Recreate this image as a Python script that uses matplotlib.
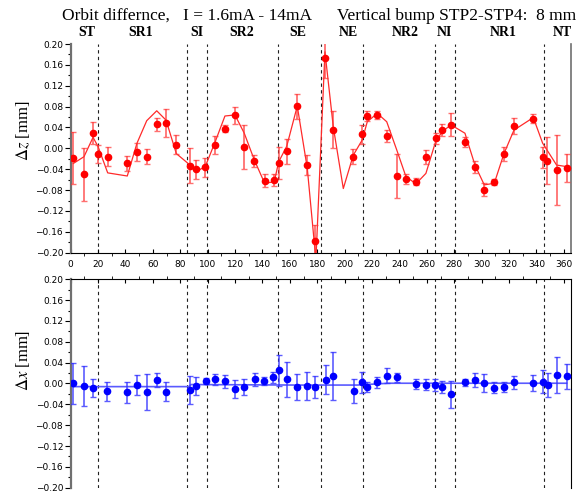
import matplotlib
matplotlib.use('Agg')
import matplotlib.pyplot as plt
from matplotlib.ticker import MultipleLocator, FuncFormatter

plt.rcParams['mathtext.fontset'] = 'stix'

# measured vertical orbit difference (red)
s_z = [1.9, 9.7, 16.3, 19.9, 27.0, 41.3, 48.4, 55.5, 62.8, 69.6, 77.1, 86.8, 91.2, 98.2,
       105.1, 112.6, 119.9, 126.7, 134.0, 141.6, 148.6, 151.8, 157.7, 165.4, 172.7, 178.3,
       185.6, 191.7, 206.3, 212.8, 216.5, 223.8, 230.7, 238.0, 244.7, 252.0, 259.3, 266.4,
       271.2, 277.6, 287.8, 295.1, 301.9, 309.2, 316.3, 323.6, 337.7, 344.5, 347.9, 354.7, 362.0]
dz = [-0.019, -0.050, 0.029, -0.011, -0.016, -0.029, -0.007, -0.016, 0.046, 0.049, 0.007,
      -0.033, -0.040, -0.036, 0.006, 0.038, 0.063, 0.003, -0.024, -0.062, -0.061, -0.028,
      -0.006, 0.081, -0.032, -0.177, 0.174, 0.036, -0.016, 0.027, 0.062, 0.064, 0.024,
      -0.053, -0.059, -0.064, -0.017, 0.019, 0.035, 0.045, 0.012, -0.036, -0.079, -0.064,
      -0.011, 0.043, 0.057, -0.017, -0.024, -0.042, -0.038]
dz_err = [0.050, 0.050, 0.021, 0.017, 0.018, 0.015, 0.018, 0.014, 0.013, 0.027, 0.018,
          0.033, 0.018, 0.018, 0.017, 0.007, 0.016, 0.042, 0.011, 0.012, 0.011, 0.031,
          0.024, 0.024, 0.020, 0.030, 0.040, 0.035, 0.014, 0.018, 0.010, 0.008, 0.011,
          0.042, 0.010, 0.007, 0.013, 0.011, 0.012, 0.022, 0.009, 0.012, 0.012, 0.006,
          0.014, 0.015, 0.009, 0.020, 0.045, 0.067, 0.027]

# model vertical (red line)
model_s_z = [1.9, 9.7, 16.3, 19.9, 27.0, 41.3, 48.4, 55.5, 62.8, 69.6, 77.1, 87.1, 91.2,
             98.2, 105.1, 112.6, 119.9, 126.7, 134.0, 141.6, 148.6, 151.8, 157.7, 165.4,
             172.7, 179.0, 185.6, 191.7, 199.0, 206.3, 212.8, 216.5, 223.8, 230.7, 238.0,
             244.7, 252.0, 259.3, 266.4, 271.2, 277.6, 287.8, 295.1, 301.9, 309.2, 316.3,
             323.6, 337.7, 344.5, 354.7, 362.0]
model_z = [-0.029, -0.016, 0.021, 0.004, -0.047, -0.053, 0.010, 0.053, 0.072, 0.054, -0.010,
           -0.032, -0.045, -0.035, 0.010, 0.062, 0.064, 0.029, -0.022, -0.067, -0.064,
           -0.026, 0.004, 0.081, -0.038, -0.214, 0.185, 0.041, -0.077, -0.013, 0.016, 0.051,
           0.067, 0.051, -0.003, -0.054, -0.068, -0.048, 0.013, 0.032, 0.045, 0.029, -0.032,
           -0.070, -0.067, -0.010, 0.035, 0.059, 0.010, -0.032, -0.035]

# measured horizontal orbit difference (blue)
s_x = [1.9, 9.7, 16.5, 26.7, 41.3, 48.6, 55.5, 62.8, 69.6, 87.1, 91.2, 98.5, 105.3, 112.6,
       119.9, 126.7, 134.3, 141.3, 147.9, 152.0, 157.7, 165.5, 172.7, 178.3, 186.1, 191.7,
       206.8, 212.8, 216.5, 223.8, 230.7, 238.0, 252.0, 259.1, 266.1, 271.0, 277.6, 287.8,
       294.9, 301.9, 309.2, 316.3, 323.6, 337.7, 345.0, 348.2, 355.2, 362.0]
dx = [0.000, -0.0045, -0.008, -0.015, -0.017, -0.003, -0.016, 0.0065, -0.016, -0.013,
      -0.0045, 0.005, 0.008, 0.004, -0.011, -0.0065, 0.008, 0.005, 0.012, 0.025, 0.008,
      -0.0065, -0.005, -0.0065, 0.007, 0.015, -0.015, 0.002, -0.0065, 0.002, 0.015, 0.012,
      -0.0013, -0.002, -0.003, -0.0065, -0.021, 0.002, 0.0065, 0.001, -0.008, -0.0065,
      0.002, 0.001, 0.003, -0.002, 0.016, 0.014]
dx_err = [0.040, 0.038, 0.017, 0.018, 0.020, 0.019, 0.034, 0.013, 0.018, 0.027, 0.017,
          0.006, 0.010, 0.013, 0.017, 0.015, 0.013, 0.008, 0.011, 0.030, 0.033, 0.025,
          0.027, 0.021, 0.028, 0.046, 0.023, 0.020, 0.010, 0.011, 0.014, 0.009, 0.010,
          0.010, 0.011, 0.011, 0.026, 0.007, 0.013, 0.018, 0.010, 0.009, 0.013, 0.016,
          0.022, 0.023, 0.035, 0.024]

# model horizontal (blue line)
model_s_x = [1.9, 86.0, 88.0, 166.0, 209.0, 232.0, 362.0]
model_x = [-0.006, -0.006, -0.002, -0.003, -0.003, 0.0005, 0.0005]

# section boundaries and names
boundaries = [19.7, 85.1, 99.3, 151.5, 182.5, 213.4, 266.1, 280.7, 345.5]
sections = ['ST', 'SR1', 'SI', 'SR2', 'SE', 'NE', 'NR2', 'NI', 'NR1', 'NT']
section_pos = [11.7, 51.3, 92.0, 124.8, 166.0, 202.6, 244.0, 273.2, 315.8, 359.0]


def fmt_y(v, pos):
    if abs(v) < 1e-9:
        v = 0.0
    return f'{v:.2f}'.replace('-', '\u2212')


W, H = 579, 491
fig = plt.figure(figsize=(W / 100, H / 100), dpi=100)
x0, x1 = 70.7, 570.7
ax1 = fig.add_axes([x0 / W, 1 - 252.7 / H, (x1 - x0) / W, 208.7 / H])
ax2 = fig.add_axes([x0 / W, 1 - 487.7 / H, (x1 - x0) / W, 208.4 / H])

for ax in (ax1, ax2):
    ax.set_xlim(0, 365)
    ax.set_ylim(-0.2, 0.2)
    ax.xaxis.set_major_locator(MultipleLocator(20))
    ax.xaxis.set_minor_locator(MultipleLocator(10))
    ax.yaxis.set_major_locator(MultipleLocator(0.04))
    ax.yaxis.set_minor_locator(MultipleLocator(0.02))
    ax.yaxis.set_major_formatter(FuncFormatter(fmt_y))
    ax.tick_params(axis='y', which='major', direction='out', length=4, width=0.8,
                   labelsize=6.5, pad=1.5)
    ax.tick_params(axis='y', which='minor', direction='out', length=2.5, width=0.8)
    ax.spines['left'].set_color('#707070')
    ax.spines['left'].set_linewidth(1.6)
    for b in boundaries:
        ax.axvline(b, color='#202020', ls=(0, (3, 3)), lw=0.8, zorder=1)

# top panel
ax1.spines['top'].set_visible(False)
ax1.spines['right'].set_color('#707070')
ax1.spines['right'].set_linewidth(1.2)
ax1.tick_params(axis='x', which='major', direction='in', length=3, labelsize=6.5, pad=5)
ax1.tick_params(axis='x', which='minor', direction='out', length=2)
ax1.tick_params(axis='y', right=False)

ax1.plot(model_s_z, model_z, color='#ff2a2a', lw=0.9, zorder=2)
ax1.errorbar(s_z, dz, yerr=dz_err, fmt='o', color='red', markersize=4.5,
             ecolor=(1, 0.2, 0.2, 0.7), elinewidth=1.3, capsize=2.5, capthick=1.0,
             zorder=3)

for name, pos in zip(sections, section_pos):
    ax1.text(pos, 0.2105, name, ha='center', va='bottom', fontsize=10,
             fontweight='bold', family='Liberation Serif')

# bottom panel
ax2.spines['bottom'].set_visible(False)
ax2.xaxis.set_ticks_position('top')
ax2.tick_params(axis='x', which='major', direction='in', length=3, labeltop=False)
ax2.tick_params(axis='x', which='minor', direction='out', length=2)

ax2.plot(model_s_x, model_x, color='#5a5aff', lw=1.2, zorder=2)
ax2.errorbar(s_x, dx, yerr=dx_err, fmt='o', color='blue', markersize=4.5,
             ecolor=(0.2, 0.2, 1, 0.8), elinewidth=1.2, capsize=2.5, capthick=1.0,
             zorder=3)

fig.text(23 / W, 1 - 131 / H, r'$\Delta z$ [mm]', rotation=90, ha='center', va='center',
         fontsize=12, family='Liberation Serif')
fig.text(23 / W, 1 - 360 / H, r'$\Delta x$ [mm]', rotation=90, ha='center', va='center',
         fontsize=12, family='Liberation Serif')

fig.text(319 / W, 1 - 16 / H,
         'Orbit differnce,   I = 1.6mA - 14mA      Vertical bump STP2-STP4:  8 mm',
         ha='center', va='center', fontsize=12.5, family='Liberation Serif')

fig.savefig('out.png', dpi=100)
